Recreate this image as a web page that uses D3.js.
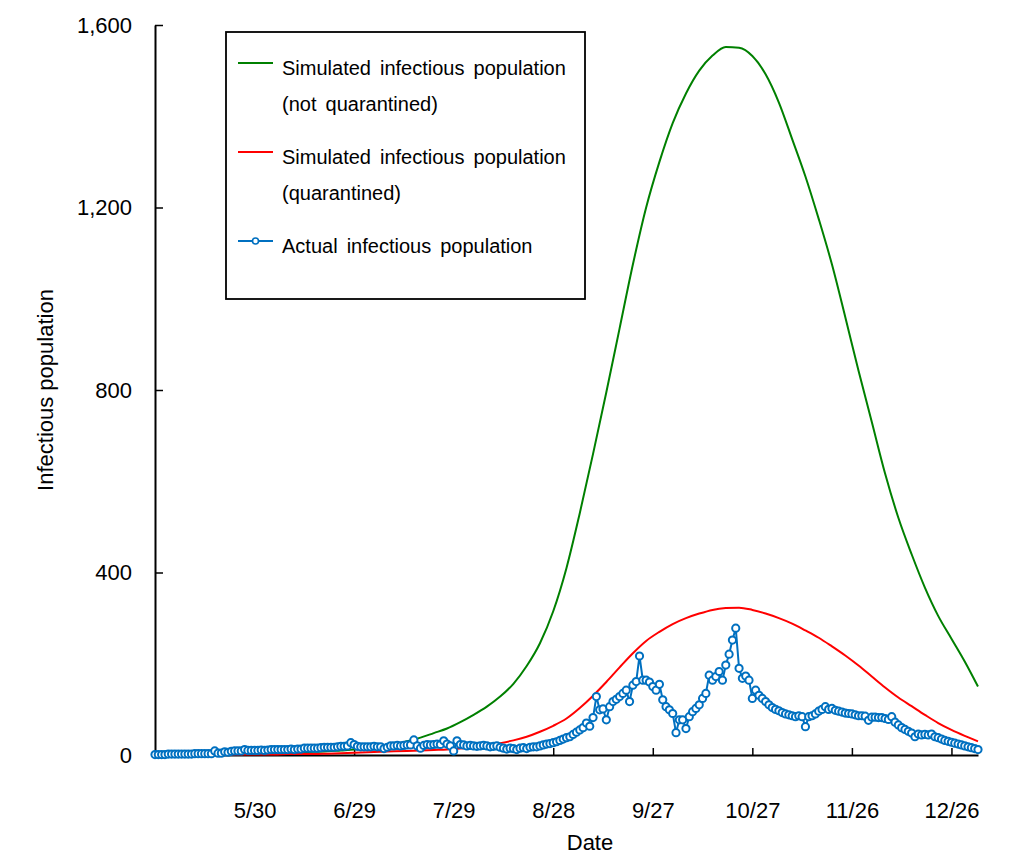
<!DOCTYPE html>
<html>
<head>
<meta charset="utf-8">
<script src="https://cdn.jsdelivr.net/npm/d3@7"></script>
<style>
  body { margin: 0; background: #fff; }
  svg text { font-family: "Liberation Sans", Arial, sans-serif; fill: #000; }
</style>
</head>
<body>
<svg id="chart" width="1024" height="867"></svg>
<script>
// first day of the series (day 0)
const startDate = new Date(2022, 3, 30);

// actual infectious population, one value per day from 4/30
const actualValues = [
  1, 1, 1, 1, 2, 2, 2, 2, 2, 2, 2, 2, 3, 3, 3, 3, 3, 3, 9, 4,
  4, 7, 6, 8, 9, 9, 9, 12, 10, 10, 10, 10, 11, 10, 11, 12, 12, 12, 12, 12,
  12, 13, 12, 13, 13, 15, 15, 15, 15, 15, 16, 17, 17, 17, 17, 18, 19, 19, 20, 27,
  23, 19, 18, 18, 18, 18, 19, 18, 18, 14, 17, 20, 20, 21, 20, 21, 22, 22, 33, 20,
  15, 21, 23, 22, 23, 24, 23, 31, 24, 20, 9, 31, 23, 22, 20, 21, 20, 19, 20, 21,
  20, 18, 19, 20, 17, 15, 13, 15, 14, 12, 15, 16, 14, 17, 18, 18, 20, 22, 24, 25,
  27, 29, 32, 35, 38, 40, 45, 50, 55, 60, 70, 63, 82, 128, 99, 101, 77, 106, 117, 122,
  128, 135, 142, 117, 153, 161, 217, 164, 164, 160, 150, 142, 155, 121, 106, 99, 91, 49, 77, 77,
  58, 84, 95, 102, 110, 124, 135, 175, 164, 172, 183, 164, 197, 221, 252, 278, 190, 168, 173, 164,
  124, 142, 131, 124, 117, 110, 104, 100, 97, 93, 90, 88, 86, 84, 86, 84, 62, 84, 86, 90,
  96, 100, 106, 100, 102, 98, 96, 94, 92, 91, 90, 88, 86, 86, 85, 76, 83, 83, 82, 82,
  80, 78, 84, 72, 66, 60, 56, 52, 48, 40, 46, 44, 45, 44, 46, 40, 38, 35, 32, 30,
  28, 26, 24, 22, 20, 18, 16, 14, 12
];

// simulated curves, read every 4 days from 4/30
const simStep = 4;
const notQuarantined = [
  0, 0, 1, 1, 1, 2, 2, 3, 3, 4, 5, 6, 7, 8, 10, 12, 15, 18, 23, 30,
  38, 48, 58, 72, 88, 106, 128, 156, 195, 245, 315, 410, 530, 660, 795, 935, 1075, 1200, 1300, 1385,
  1450, 1500, 1533, 1552, 1550, 1532, 1492, 1430, 1350, 1268, 1175, 1075, 960, 842, 730, 617, 520, 440, 367, 305,
  255, 205, 150
];
const quarantined = [
  0, 0, 0, 0, 0, 0, 1, 1, 1, 1, 2, 2, 2, 3, 4, 5, 6, 7, 8, 9,
  10, 11, 12, 14, 17, 21, 26, 32, 40, 51, 64, 80, 103, 130, 160, 192, 223, 250, 270, 287,
  300, 310, 318, 322, 323, 318, 310, 300, 288, 273, 257, 238, 218, 196, 172, 148, 126, 107, 88, 70,
  55, 42, 30
];

const yTicks = [0, 400, 800, 1200, 1600];
const xTickLabels = ["5/30", "6/29", "7/29", "8/28", "9/27", "10/27", "11/26", "12/26"];

const seriesNames = [
  ["Simulated infectious population", "(not quarantined)"],
  ["Simulated infectious population", "(quarantined)"],
  ["Actual infectious population"]
];
const colors = ["#008000", "#ff0000", "#0070c0"];

const svg = d3.select("#chart");
const margin = { left: 155, top: 25, right: 46, bottom: 112 };
const width = 1024 - margin.left - margin.right;
const height = 867 - margin.top - margin.bottom;

const g = svg.append("g").attr("transform", `translate(${margin.left},${margin.top})`);

const dayDate = i => d3.timeDay.offset(startDate, i);
const lastDay = actualValues.length - 1;

const x = d3.scaleTime()
  .domain([startDate, dayDate(lastDay)])
  .range([0, width]);
const y = d3.scaleLinear()
  .domain([0, 1600])
  .range([height, 0]);

const parseTick = d3.timeParse("%Y/%m/%d");
const xTickDates = xTickLabels.map(s => parseTick("2022/" + s));

// axes
const xAxis = g.append("g")
  .attr("transform", `translate(0,${height})`)
  .call(d3.axisBottom(x)
    .tickValues(xTickDates)
    .tickSize(-7)
    .tickSizeOuter(0)
    .tickPadding(47)
    .tickFormat(d3.timeFormat("%-m/%-d")));

const yAxis = g.append("g")
  .call(d3.axisLeft(y)
    .tickValues(yTicks)
    .tickSize(-8)
    .tickSizeOuter(0)
    .tickPadding(23)
    .tickFormat(d3.format(",")));

[xAxis, yAxis].forEach(a => {
  a.select(".domain").attr("stroke", "#000").attr("stroke-width", 2);
  a.selectAll(".tick line").attr("stroke", "#000").attr("stroke-width", 1.5);
  a.selectAll(".tick text").attr("font-size", 22).attr("fill", "#000");
});

// axis titles
svg.append("text")
  .attr("x", 590)
  .attr("y", 850)
  .attr("text-anchor", "middle")
  .attr("font-size", 22)
  .text("Date");

svg.append("text")
  .attr("transform", "translate(53,390) rotate(-90)")
  .attr("text-anchor", "middle")
  .attr("font-size", 22)
  .text("Infectious population");

// lines
const simLine = d3.line()
  .x((d, i) => x(dayDate(i * simStep)))
  .y(d => y(d))
  .curve(d3.curveMonotoneX);

g.append("path")
  .datum(notQuarantined)
  .attr("fill", "none")
  .attr("stroke", colors[0])
  .attr("stroke-width", 2)
  .attr("d", simLine);

g.append("path")
  .datum(quarantined)
  .attr("fill", "none")
  .attr("stroke", colors[1])
  .attr("stroke-width", 2)
  .attr("d", simLine);

const actualLine = d3.line()
  .x((d, i) => x(dayDate(i)))
  .y(d => y(d));

g.append("path")
  .datum(actualValues)
  .attr("fill", "none")
  .attr("stroke", colors[2])
  .attr("stroke-width", 2)
  .attr("d", actualLine);

g.append("g")
  .selectAll("circle")
  .data(actualValues)
  .join("circle")
    .attr("cx", (d, i) => x(dayDate(i)))
    .attr("cy", d => y(d))
    .attr("r", 3.6)
    .attr("fill", "#fff")
    .attr("stroke", colors[2])
    .attr("stroke-width", 2);

// legend
const legend = svg.append("g").attr("transform", "translate(226,32)");

legend.append("rect")
  .attr("width", 359)
  .attr("height", 267)
  .attr("fill", "#fff")
  .attr("stroke", "#000")
  .attr("stroke-width", 1.8);

const entryY = [31, 120, 209];
seriesNames.forEach((lines, k) => {
  const row = legend.append("g").attr("transform", `translate(0,${entryY[k]})`);
  row.append("line")
    .attr("x1", 12).attr("x2", 47)
    .attr("stroke", colors[k])
    .attr("stroke-width", 2);
  if (k == 2) {
    row.append("circle")
      .attr("cx", 29.5)
      .attr("r", 3)
      .attr("fill", "#fff")
      .attr("stroke", colors[k])
      .attr("stroke-width", 1.6);
  }
  lines.forEach((t, j) => {
    row.append("text")
      .attr("x", 56)
      .attr("y", 12 + j * 36)
      .attr("font-size", 20)
      .attr("word-spacing", 3.5)
      .text(t);
  });
});
</script>
</body>
</html>
